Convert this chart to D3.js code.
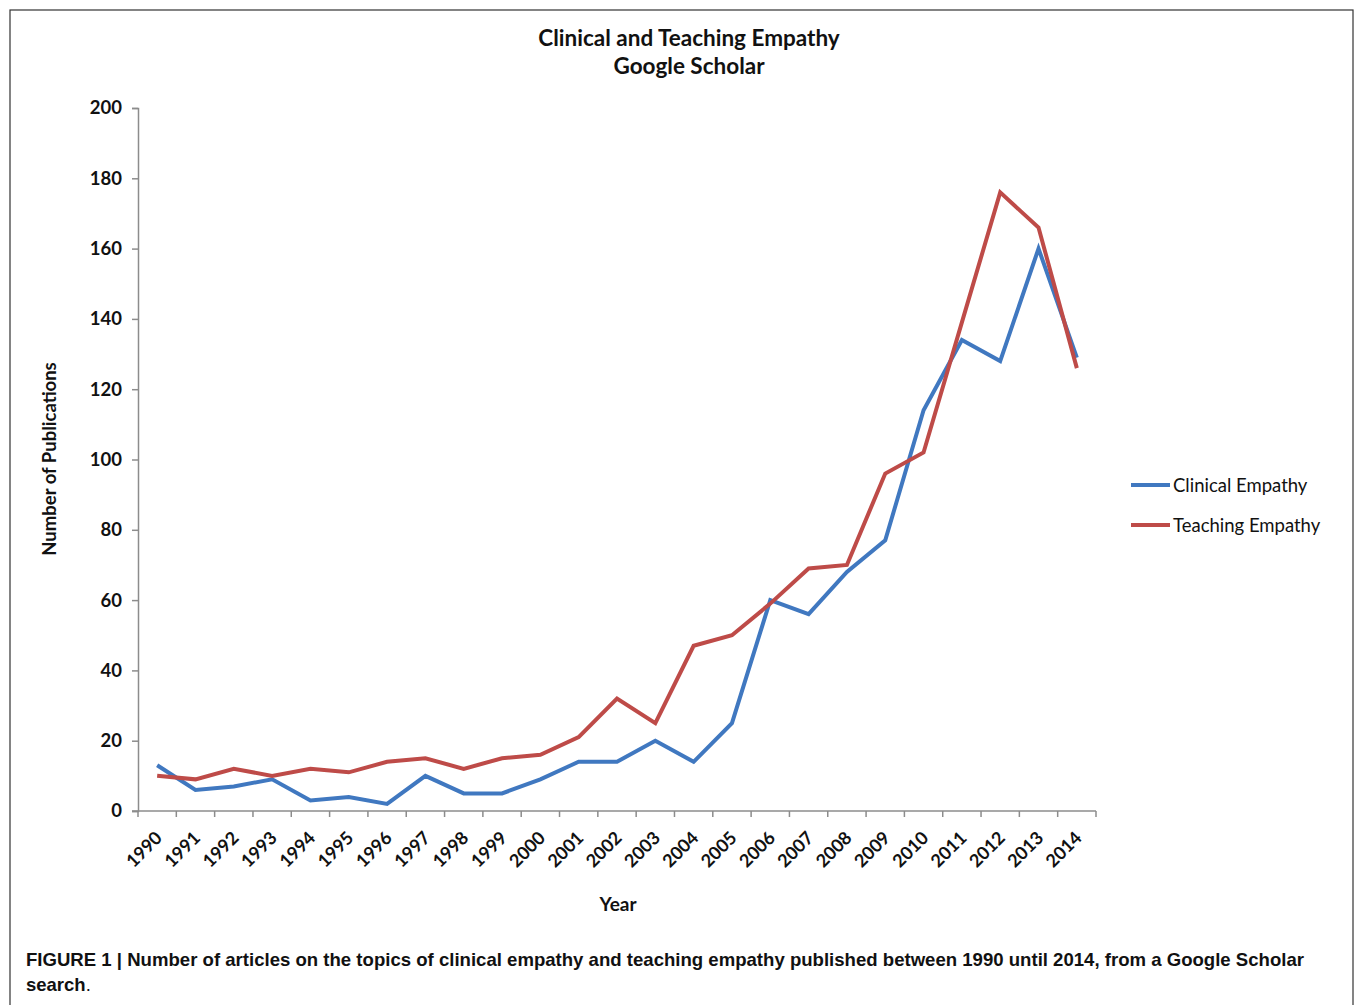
<!DOCTYPE html>
<html lang="en">
<head>
    <meta charset="UTF-8">
    <script src="https://d3js.org/d3.v7.min.js"></script>
    <title>Clinical and Teaching Empathy</title>
    <style>
        body { margin: 0; background: #fff; }
        svg text { font-family: Lato, "Open Sans", sans-serif; fill: #111; }
        .caption { font-family: "Liberation Sans", Arial, sans-serif; }
    </style>
</head>
<body>
<div id="chart"></div>

<script>
    // Data
    var years = ["1990", "1991", "1992", "1993", "1994", "1995", "1996", "1997", "1998", "1999",
        "2000", "2001", "2002", "2003", "2004", "2005", "2006", "2007", "2008", "2009",
        "2010", "2011", "2012", "2013", "2014"];
    var clinical = [13, 6, 7, 9, 3, 4, 2, 10, 5, 5, 9, 14, 14, 20, 14, 25, 60, 56, 68, 77, 114, 134, 128, 160, 129];
    var teaching = [10, 9, 12, 10, 12, 11, 14, 15, 12, 15, 16, 21, 32, 25, 47, 50, 59, 69, 70, 96, 102, 139, 176, 166, 126];
    var yTicks = [0, 20, 40, 60, 80, 100, 120, 140, 160, 180, 200];
    var seriesNames = ["Clinical Empathy", "Teaching Empathy"];
    var seriesColors = ["#4078c0", "#be4b48"];

    var W = 1355, H = 1005;
    var plot = {left: 138, right: 1096, top: 108, bottom: 811};

    var svg = d3.select("#chart").append("svg")
        .attr("width", W)
        .attr("height", H);

    // frame around the figure
    svg.append("rect")
        .attr("x", 10).attr("y", 10)
        .attr("width", 1343).attr("height", 1010)
        .attr("fill", "none")
        .attr("stroke", "#333")
        .attr("stroke-width", 1.2);

    var x = d3.scaleBand().domain(years).range([plot.left, plot.right]).padding(0);
    var y = d3.scaleLinear().domain([0, 200]).range([plot.bottom, plot.top]);

    // title
    svg.append("text")
        .attr("x", 689).attr("y", 46)
        .attr("text-anchor", "middle")
        .style("font-size", "22.5px").style("font-weight", "bold")
        .text("Clinical and Teaching Empathy");
    svg.append("text")
        .attr("x", 689).attr("y", 74)
        .attr("text-anchor", "middle")
        .style("font-size", "22.5px").style("font-weight", "bold")
        .text("Google Scholar");

    // y axis
    var yAxis = svg.append("g")
        .attr("transform", "translate(" + plot.left + ",0)")
        .call(d3.axisLeft(y).tickValues(yTicks).tickSize(6).tickPadding(10));
    yAxis.selectAll("path, line").attr("stroke", "#8c8c8c").attr("stroke-width", 1.5);
    yAxis.selectAll("text").style("font-size", "18.5px").style("font-weight", "bold")
        .style("font-family", "Lato, sans-serif");

    // x axis: ticks on category boundaries
    var xAxisG = svg.append("g")
        .attr("transform", "translate(0," + plot.bottom + ")");
    xAxisG.append("line")
        .attr("x1", plot.left - 6).attr("x2", plot.right)
        .attr("stroke", "#8c8c8c").attr("stroke-width", 1.5);
    var boundaries = years.map(function (d) { return x(d); }).concat([plot.right]);
    xAxisG.selectAll(".xtick")
        .data(boundaries)
        .enter().append("line")
        .attr("class", "xtick")
        .attr("x1", function (d) { return d; })
        .attr("x2", function (d) { return d; })
        .attr("y1", 0).attr("y2", 6)
        .attr("stroke", "#8c8c8c").attr("stroke-width", 1.5);
    xAxisG.selectAll(".xlabel")
        .data(years)
        .enter().append("text")
        .attr("class", "xlabel")
        .attr("text-anchor", "end")
        .attr("transform", function (d) {
            return "translate(" + (x(d) + x.bandwidth() / 2 + 6) + ",28) rotate(-45)";
        })
        .style("font-size", "18px").style("font-weight", "bold")
        .text(function (d) { return d; });

    // axis titles
    svg.append("text")
        .attr("x", 618).attr("y", 911)
        .attr("text-anchor", "middle")
        .style("font-size", "19px").style("font-weight", "bold")
        .text("Year");
    svg.append("text")
        .attr("transform", "translate(56,459) rotate(-90)")
        .attr("text-anchor", "middle")
        .style("font-size", "18.5px").style("font-weight", "bold")
        .text("Number of Publications");

    // lines
    var line = d3.line()
        .x(function (d, i) { return x(years[i]) + x.bandwidth() / 2; })
        .y(function (d) { return y(d); });

    [clinical, teaching].forEach(function (vals, i) {
        svg.append("path")
            .datum(vals)
            .attr("fill", "none")
            .attr("stroke", seriesColors[i])
            .attr("stroke-width", 4)
            .attr("stroke-linejoin", "miter")
            .attr("d", line);
    });

    // legend
    var legend = svg.append("g");
    seriesNames.forEach(function (name, i) {
        var ly = 485 + i * 40;
        legend.append("line")
            .attr("x1", 1131).attr("x2", 1170)
            .attr("y1", ly).attr("y2", ly)
            .attr("stroke", seriesColors[i])
            .attr("stroke-width", 4);
        legend.append("text")
            .attr("x", 1173).attr("y", ly + 7)
            .style("font-size", "18.5px")
            .text(name);
    });

    // caption
    svg.append("text")
        .attr("class", "caption")
        .attr("x", 26).attr("y", 966)
        .attr("textLength", 1278)
        .attr("lengthAdjust", "spacingAndGlyphs")
        .style("font-size", "18.5px").style("font-weight", "bold")
        .text("FIGURE 1 | Number of articles on the topics of clinical empathy and teaching empathy published between 1990 until 2014, from a Google Scholar");
    svg.append("text")
        .attr("class", "caption")
        .attr("x", 26).attr("y", 991)
        .style("font-size", "18.5px").style("font-weight", "bold")
        .text("search")
        .append("tspan").style("font-weight", "normal").text(".");
</script>

</body>
</html>
